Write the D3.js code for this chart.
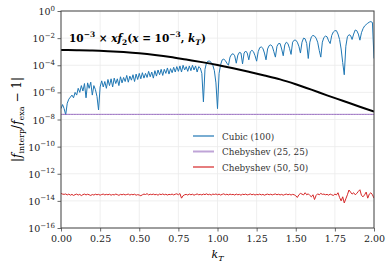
<!DOCTYPE html>
<html>
<head>
<meta charset="utf-8">
<script src="https://cdn.jsdelivr.net/npm/d3@7"></script>
<style>
  body { margin: 0; background: #fff; }
  text { font-family: "DejaVu Serif", serif; }
</style>
</head>
<body>
<svg id="chart" width="392" height="267" font-family="DejaVu Serif, serif"></svg>
<script>
// kT grid of the three interpolation curves (step 0.01)
let kT = d3.range(0, 201).map(i => i / 100)

// log10 of |f_interp/f_exa - 1|
let cubicLog = [
  -7.20, -6.90, -7.20, -7.65, -6.80, -6.50, -6.35, -6.20, -6.40, -6.00,
  -6.20, -5.70, -6.00, -5.50, -5.90, -5.35, -6.40, -5.30, -5.70, -5.25,
  -6.20, -5.50, -5.80, -6.30, -7.30, -5.60, -5.15, -5.60, -5.20, -5.70,
  -5.05, -5.50, -5.00, -5.60, -4.95, -5.35, -5.00, -5.50, -4.85, -5.30,
  -4.90, -5.20, -4.75, -5.25, -4.80, -5.10, -4.70, -5.20, -4.65, -5.05,
  -4.60, -5.00, -4.55, -4.95, -4.60, -4.90, -4.45, -4.85, -4.50, -4.95,
  -4.40, -4.80, -4.35, -4.70, -4.30, -4.75, -4.30, -4.60, -4.20, -4.65,
  -4.25, -4.55, -4.15, -4.50, -4.10, -4.45, -4.05, -4.50, -4.00, -4.35,
  -4.10, -4.45, -4.05, -4.40, -4.00, -4.35, -4.05, -4.50, -4.10, -4.20,
  -4.60, -6.70, -4.30, -3.80, -3.70, -3.70, -3.80, -4.00, -4.40, -5.30,
  -7.20, -4.60, -3.95, -3.60, -3.55, -3.65, -3.85, -4.00, -3.40, -3.20,
  -3.15, -3.30, -3.85, -3.25, -3.05, -3.10, -3.90, -3.10, -2.95, -3.10,
  -3.60, -3.00, -2.90, -3.00, -3.30, -3.70, -3.00, -2.70, -2.65, -2.75,
  -3.10, -3.60, -2.80, -2.55, -2.50, -2.60, -3.00, -3.40, -2.60, -2.40,
  -2.40, -2.80, -3.30, -2.50, -2.30, -2.40, -2.75, -3.20, -2.30, -2.15,
  -2.15, -2.30, -2.60, -3.10, -2.30, -2.00, -2.05, -2.40, -3.50, -2.30,
  -1.90, -1.80, -1.85, -2.00, -2.30, -2.90, -3.40, -2.30, -1.95, -1.85,
  -1.90, -2.20, -2.40, -1.80, -1.55, -1.45, -1.45, -1.70, -2.10, -2.80,
  -3.80, -4.70, -2.60, -1.90, -1.75, -1.80, -2.10, -1.70, -1.40, -1.45,
  -1.70, -2.15, -1.60, -1.30, -1.10, -1.00, -0.90, -0.82, -0.78, -0.85,
  -3.50
]

let cheb25Log = kT.map(() => -7.62)

let cheb50Log = [
  -13.45, -13.50, -13.52, -13.49, -13.56, -13.50, -13.58, -13.52, -13.60, -13.54,
  -13.50, -13.57, -13.52, -13.61, -13.54, -13.50, -13.56, -13.51, -13.55, -13.60,
  -13.53, -13.57, -13.51, -13.55, -13.52, -13.58, -13.53, -13.50, -13.56, -13.52,
  -13.55, -13.51, -13.58, -13.53, -13.56, -13.50, -13.54, -13.59, -13.52, -13.55,
  -13.51, -13.56, -13.53, -13.50, -13.57, -13.52, -13.55, -13.51, -13.58, -13.54,
  -13.57, -13.62, -13.55, -13.50, -13.53, -13.47, -13.56, -13.51, -13.54, -13.50,
  -13.55, -13.52, -13.58, -13.50, -13.54, -13.49, -13.55, -13.51, -13.57, -13.52,
  -13.54, -13.50, -13.56, -13.51, -13.48, -13.55, -13.46, -13.80, -13.62, -13.55,
  -13.52, -13.57, -13.50, -13.55, -13.51, -13.58, -13.53, -13.49, -13.55, -13.52,
  -13.56, -13.50, -13.54, -13.48, -13.55, -13.51, -13.57, -13.50, -13.53, -13.49,
  -13.55, -13.50, -13.57, -13.52, -13.48, -13.55, -13.51, -13.56, -13.50, -13.54,
  -13.52, -13.57, -13.50, -13.55, -13.52, -13.58, -13.51, -13.54, -13.50, -13.56,
  -13.53, -13.49, -13.55, -13.51, -13.57, -13.52, -13.55, -13.50, -13.56, -13.52,
  -13.58, -13.53, -13.50, -13.55, -13.51, -13.56, -13.52, -13.49, -13.55, -13.51,
  -13.56, -13.52, -13.58, -13.53, -13.50, -13.55, -13.51, -13.57, -13.52, -13.55,
  -13.62, -13.75, -13.55, -13.45, -13.50, -13.56, -13.40, -13.55, -13.48, -13.60,
  -13.70, -13.55, -13.90, -13.60, -13.48, -13.55, -13.45, -13.52, -13.50, -13.55,
  -13.52, -13.58, -13.50, -13.55, -13.60, -13.50, -13.56, -13.40, -13.75, -14.00,
  -13.70, -14.15, -13.85, -13.55, -13.20, -13.35, -13.50, -13.40, -13.55, -13.45,
  -13.30, -13.18, -13.60, -13.70, -13.55, -13.35, -13.80, -13.50, -13.40, -13.55,
  -13.80
]

// reference function 1e-3 * x f2(x=1e-3, kT), log10
let refK = [0, 0.1, 0.2, 0.3, 0.4, 0.5, 0.6, 0.7, 0.8, 0.9, 1.0, 1.1, 1.2, 1.3, 1.4, 1.5, 1.6, 1.7, 1.8, 1.9, 2.0]
let refLog = [-2.88, -2.89, -2.91, -2.96, -3.03, -3.12, -3.24, -3.39, -3.58, -3.77, -3.98,
  -4.22, -4.48, -4.75, -5.04, -5.40, -5.80, -6.22, -6.62, -7.02, -7.42]

let xTicks = [0, 0.25, 0.5, 0.75, 1.0, 1.25, 1.5, 1.75, 2.0]
let yExps = [0, -2, -4, -6, -8, -10, -12, -14, -16]

let series = [
  { name: "Cubic (100)", color: "#1f77b4", values: cubicLog },
  { name: "Chebyshev (25, 25)", color: "#9467bd", values: cheb25Log },
  { name: "Chebyshev (50, 50)", color: "#d62728", values: cheb50Log }
]

let margin = { left: 61, right: 18, top: 11, bottom: 39 }
let width = 392, height = 267
let svg = d3.select("#chart")

let xScale = d3.scaleLinear().domain([0, 2]).range([margin.left, width - margin.right])
let yScale = d3.scaleLog().domain([1e-16, 1]).range([height - margin.bottom, margin.top])

// 网格
let grid = svg.append("g")
grid.selectAll(".gx").data(xTicks).enter().append("line")
  .attr("x1", d => xScale(d)).attr("x2", d => xScale(d))
  .attr("y1", margin.top).attr("y2", height - margin.bottom)
  .attr("stroke", "#ebebeb").attr("stroke-width", 0.8)
grid.selectAll(".gy").data(yExps).enter().append("line")
  .attr("x1", margin.left).attr("x2", width - margin.right)
  .attr("y1", d => yScale(Math.pow(10, d))).attr("y2", d => yScale(Math.pow(10, d)))
  .attr("stroke", "#ebebeb").attr("stroke-width", 0.8)

svg.append("clipPath").attr("id", "clip").append("rect")
  .attr("x", margin.left).attr("y", margin.top)
  .attr("width", width - margin.left - margin.right)
  .attr("height", height - margin.top - margin.bottom)

let line = d3.line()
  .x(d => xScale(d[0]))
  .y(d => yScale(Math.pow(10, d[1])))

let plot = svg.append("g").attr("clip-path", "url(#clip)")

// 数据线
series.forEach(s => {
  plot.append("path")
    .attr("d", line(kT.map((k, i) => [k, s.values[i]])))
    .attr("fill", "none")
    .attr("stroke", s.color)
    .attr("stroke-width", 1)
    .attr("stroke-linejoin", "round")
})

plot.append("path")
  .attr("d", line.curve(d3.curveMonotoneX)(refK.map((k, i) => [k, refLog[i]])))
  .attr("fill", "none")
  .attr("stroke", "#000")
  .attr("stroke-width", 2)

// 坐标轴
let xAxis = svg.append("g")
  .attr("transform", "translate(0," + (height - margin.bottom) + ")")
  .call(d3.axisBottom(xScale).tickValues(xTicks).tickFormat(d3.format(".2f")).tickSizeOuter(0).tickSize(3.5).tickPadding(4))
xAxis.attr("font-family", null)
xAxis.selectAll("text").attr("font-size", 9.5).attr("fill", "#222")

let yAxis = svg.append("g")
  .attr("transform", "translate(" + margin.left + ",0)")
  .call(d3.axisLeft(yScale).tickValues(yExps.map(e => Math.pow(10, e))).tickFormat("").tickSizeOuter(0).tickSize(3.5))

svg.selectAll(".domain").remove()
svg.selectAll(".tick line").attr("stroke", "#444").attr("stroke-width", 0.8)

let ylab = svg.append("g")
yExps.forEach(e => {
  let t = ylab.append("text")
    .attr("x", margin.left - 6)
    .attr("y", yScale(Math.pow(10, e)) + 4)
    .attr("text-anchor", "end")
    .attr("font-size", 9.5)
    .attr("fill", "#222")
  t.append("tspan").text("10")
  t.append("tspan").attr("dy", -4.5).attr("font-size", 7).text(e == 0 ? "0" : "\u2212" + (-e))
})

// frame
svg.append("rect")
  .attr("x", margin.left).attr("y", margin.top)
  .attr("width", width - margin.left - margin.right)
  .attr("height", height - margin.top - margin.bottom)
  .attr("fill", "none").attr("stroke", "#444").attr("stroke-width", 1)

// x label
let xl = svg.append("text")
  .attr("x", (margin.left + width - margin.right) / 2)
  .attr("y", 258)
  .attr("text-anchor", "middle")
  .attr("font-size", 11)
xl.append("tspan").attr("font-style", "italic").text("k")
xl.append("tspan").attr("font-style", "italic").attr("font-size", 8).attr("dy", 2.5).text("T")

// y label
let yl = svg.append("text")
  .attr("transform", "translate(21," + ((margin.top + height - margin.bottom) / 2) + ") rotate(-90)")
  .attr("text-anchor", "middle")
  .attr("font-size", 12)
yl.append("tspan").text("|")
yl.append("tspan").attr("font-style", "italic").text("f")
yl.append("tspan").attr("font-size", 8).attr("dy", 3).text("interp")
yl.append("tspan").attr("dy", -3).text("/")
yl.append("tspan").attr("font-style", "italic").text("f")
yl.append("tspan").attr("font-size", 8).attr("dy", 3).text("exa")
yl.append("tspan").attr("dy", -3).text(" \u2212 1|")

// annotation
let ann = svg.append("text")
  .attr("x", 69)
  .attr("y", 42)
  .attr("font-size", 10.5)
  .attr("font-weight", "bold")
ann.append("tspan").text("10")
ann.append("tspan").attr("font-size", 7.5).attr("dy", -5).text("\u22123")
ann.append("tspan").attr("dy", 5).text(" \u00d7 ")
ann.append("tspan").attr("font-style", "italic").text("xf")
ann.append("tspan").attr("font-size", 7.5).attr("dy", 2.5).text("2")
ann.append("tspan").attr("dy", -2.5).text("(")
ann.append("tspan").attr("font-style", "italic").text("x")
ann.append("tspan").text(" = 10")
ann.append("tspan").attr("font-size", 7.5).attr("dy", -5).text("\u22123")
ann.append("tspan").attr("dy", 5).text(", ")
ann.append("tspan").attr("font-style", "italic").text("k")
ann.append("tspan").attr("font-style", "italic").attr("font-size", 7.5).attr("dy", 2.5).text("T")
ann.append("tspan").attr("dy", -2.5).text(")")

// 图例
let legend = svg.append("g")
series.forEach((s, i) => {
  let ly = 136 + i * 15.5
  legend.append("line")
    .attr("x1", 193).attr("x2", 214)
    .attr("y1", ly).attr("y2", ly)
    .attr("stroke", s.color).attr("stroke-width", 2).attr("stroke-opacity", 0.6)
  legend.append("text")
    .attr("x", 222).attr("y", ly + 3.5)
    .attr("font-size", 8.8)
    .attr("fill", "#333")
    .text(s.name)
})
</script>
</body>
</html>
